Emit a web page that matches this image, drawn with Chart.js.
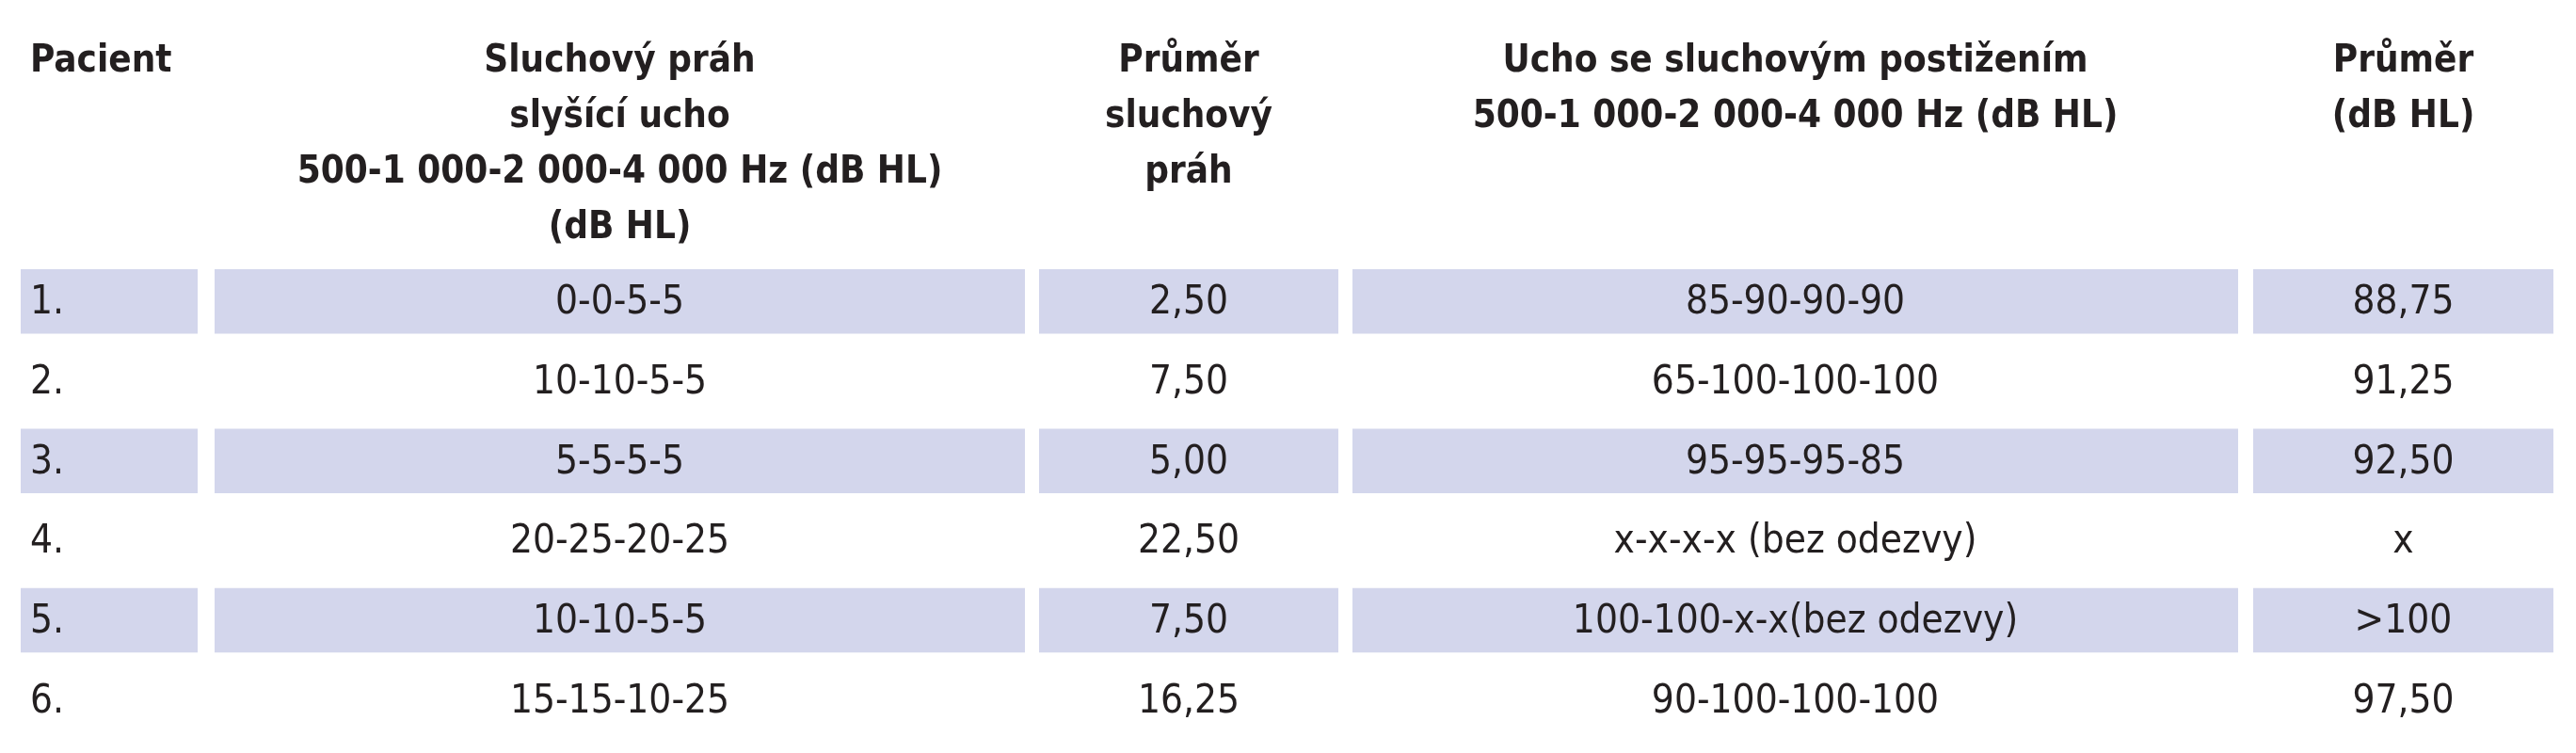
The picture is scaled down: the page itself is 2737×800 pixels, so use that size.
<!DOCTYPE html>
<html>
<head>
<meta charset="utf-8">
<script src="https://cdn.jsdelivr.net/npm/chart.js@4"></script>
<style>
  html, body { margin: 0; padding: 0; background: #fff; }
  #wrap { width: 2737px; height: 800px; }
</style>
</head>
<body>
<div id="wrap"><canvas id="table"></canvas></div>
<script>
// Table content
const patients = ['1.', '2.', '3.', '4.', '5.', '6.'];
const healthyEar = ['0-0-5-5', '10-10-5-5', '5-5-5-5', '20-25-20-25', '10-10-5-5', '15-15-10-25'];
const healthyAvg = ['2,50', '7,50', '5,00', '22,50', '7,50', '16,25'];
const impairedEar = ['85-90-90-90', '65-100-100-100', '95-95-95-85', 'x-x-x-x (bez odezvy)', '100-100-x-x(bez odezvy)', '90-100-100-100'];
const impairedAvg = ['88,75', '91,25', '92,50', 'x', '>100', '97,50'];
const headers = [
  ['Pacient'],
  ['Sluchový práh', 'slyšící ucho', '500-1 000-2 000-4 000 Hz (dB HL)', '(dB HL)'],
  ['Průměr', 'sluchový', 'práh'],
  ['Ucho se sluchovým postižením', '500-1 000-2 000-4 000 Hz (dB HL)'],
  ['Průměr', '(dB HL)']
];
const shadedRows = [0, 2, 4];

// column boundaries along the x scale
const colEdges = [[22, 210], [228, 1089], [1104, 1422], [1437, 2378], [2394, 2713]];
const columns = [patients, healthyEar, healthyAvg, impairedEar, impairedAvg];

const datasets = colEdges.map(function (edge) {
  return {
    data: patients.map(function (p, i) { return shadedRows.includes(i) ? [edge[0], edge[1]] : null; }),
    backgroundColor: '#d3d6ec',
    borderWidth: 0,
    grouped: false,
    barPercentage: 0.81,
    categoryPercentage: 1
  };
});

const textPlugin = {
  id: 'tableText',
  afterDatasetsDraw(chart) {
    const ctx = chart.ctx;
    const x = chart.scales.x;
    const y = chart.scales.y;
    ctx.save();
    ctx.fillStyle = '#231f20';
    ctx.textBaseline = 'middle';
    function xFor(c) {
      return c === 0 ? x.getPixelForValue(colEdges[0][0] + 10)
        : x.getPixelForValue((colEdges[c][0] + colEdges[c][1]) / 2);
    }
    // header
    ctx.font = 'bold 40px "Liberation Sans Narrow", "DejaVu Sans Condensed", sans-serif';
    headers.forEach(function (lines, c) {
      ctx.textAlign = c === 0 ? 'left' : 'center';
      lines.forEach(function (line, k) {
        ctx.fillText(line, xFor(c), 66 + k * 59);
      });
    });
    // body
    ctx.font = '42px "Liberation Sans Narrow", "DejaVu Sans Condensed", sans-serif';
    columns.forEach(function (col, c) {
      ctx.textAlign = c === 0 ? 'left' : 'center';
      col.forEach(function (val, i) {
        ctx.fillText(val, xFor(c), y.getPixelForValue(i) + 2);
      });
    });
    ctx.restore();
  }
};

new Chart(document.getElementById('table'), {
  type: 'bar',
  data: { labels: patients, datasets: datasets },
  options: {
    indexAxis: 'y',
    responsive: true,
    maintainAspectRatio: false,
    animation: false,
    layout: { padding: { top: 278, bottom: 14, left: 0, right: 0 } },
    plugins: { legend: { display: false }, tooltip: { enabled: false } },
    scales: {
      x: { type: 'linear', min: 0, max: 2737, display: false },
      y: { display: false }
    }
  },
  plugins: [textPlugin]
});
</script>
</body>
</html>
